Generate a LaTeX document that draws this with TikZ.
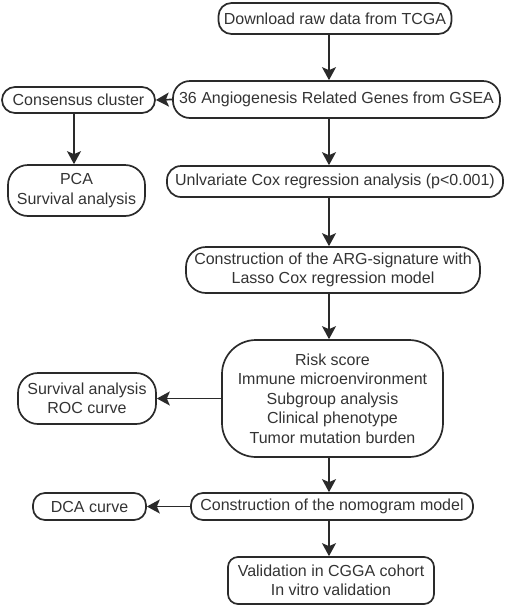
\documentclass[tikz,border=0pt]{standalone}
\usepackage{fontspec}
\setmainfont{Liberation Sans}
\usetikzlibrary{arrows.meta}
\definecolor{txt}{HTML}{333333}
\definecolor{ln}{HTML}{2A2A2A}
\begin{document}
\begin{tikzpicture}[x=1pt,y=-1pt,
  box/.style={draw=ln,line width=1.7pt,text=txt,align=center,inner sep=0pt,
    font=\fontsize{16}{19.5}\selectfont,rounded corners=#1},
  box/.default=13pt,
  arr/.style={draw=ln,line width=1.7pt,-{Stealth[length=13pt,width=14pt,inset=3pt]}}]
\useasboundingbox (0,0) rectangle (505,606);
\node[box,minimum width=233pt,minimum height=31pt] (n1) at (335,18.5) {Download raw data from TCGA};
\node[box=17pt,minimum width=327pt,minimum height=37pt] (n2) at (336.5,99.5) {36 Angiogenesis Related Genes from GSEA};
\node[box,minimum width=153pt,minimum height=26pt] (cc) at (78.5,100) {Consensus cluster};
\node[box=20pt,minimum width=137pt,minimum height=51pt] (pca) at (76.5,190.5) {PCA\\Survival analysis};
\node[box=14pt,minimum width=336pt,minimum height=31pt] (cox) at (335,181.5) {Unlvariate Cox regression analysis (p<0.001)};
\node[box=20pt,minimum width=294pt,minimum height=46pt] (arg) at (333,270) {Construction of the ARG-signature with\\Lasso Cox regression model};
\node[box=34pt,minimum width=221pt,minimum height=117pt] (risk) at (332.5,398.5) {Risk score\\Immune microenvironment\\Subgroup analysis\\Clinical phenotype\\Tumor mutation burden};
\node[box=20pt,minimum width=138pt,minimum height=51pt] (surv) at (87,398.5) {Survival analysis\\ROC curve};
\node[box=12pt,minimum width=113pt,minimum height=27pt] (dca) at (89.5,506.5) {DCA curve};
\node[box=12pt,minimum width=282pt,minimum height=27pt] (nomo) at (332,506.5) {Construction of the nomogram model};
\node[box=10pt,minimum width=206pt,minimum height=47pt] (val) at (331,580.5) {Validation in CGGA cohort\\In vitro validation};
\coordinate (ax) at (329,0);
\coordinate (bx) at (74,0);
\draw[arr] (n1.south -| ax) -- (n2.north -| ax);
\draw[arr] (n2.south -| ax) -- (cox.north -| ax);
\draw[arr] (cox.south -| ax) -- (arg.north -| ax);
\draw[arr] (arg.south -| ax) -- (risk.north -| ax);
\draw[arr] (risk.south -| ax) -- (nomo.north -| ax);
\draw[arr] (nomo.south -| ax) -- (val.north -| ax);
\draw[arr] (n2.west) -- (cc.east);
\draw[arr] (cc.south -| bx) -- (pca.north -| bx);
\draw[arr] (risk.west) -- (surv.east);
\draw[arr] (nomo.west) -- (dca.east);
\end{tikzpicture}
\end{document}
